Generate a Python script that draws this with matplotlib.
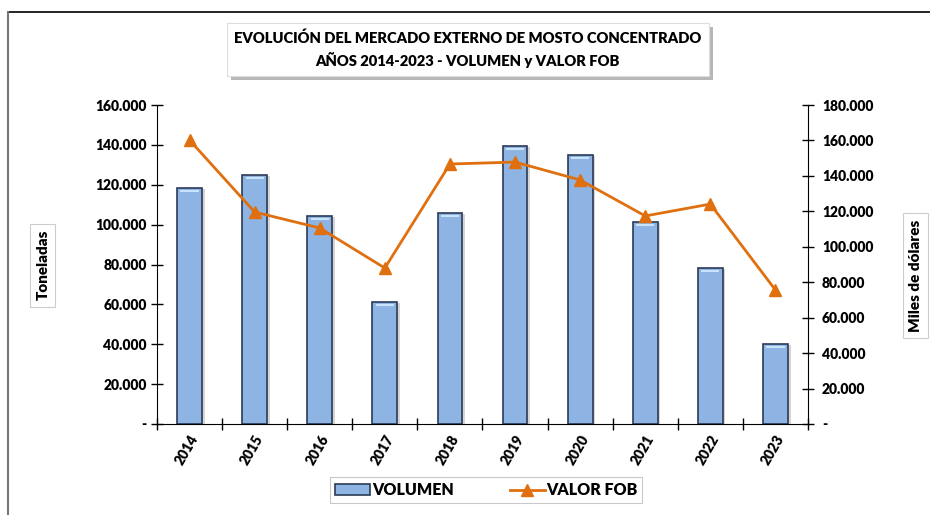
import numpy as np
import matplotlib.pyplot as plt
import matplotlib.patheffects as pe
from matplotlib.patches import Rectangle
from matplotlib.lines import Line2D
from matplotlib.ticker import FuncFormatter, MultipleLocator

years = ['2014', '2015', '2016', '2017', '2018', '2019', '2020', '2021', '2022', '2023']
volumen = [118500, 125000, 104300, 61200, 105800, 139400, 135000, 101300, 78200, 40100]
valor_fob = [160200, 119600, 110600, 88000, 146700, 147800, 137700, 117400, 124100, 75600]

plt.rcParams['font.family'] = ['Lato', 'DejaVu Sans']
plt.rcParams['font.weight'] = 'heavy'


def miles(v, pos):
    if v == 0:
        return '-'
    return '{:,.0f}'.format(v).replace(',', '.')


fig = plt.figure(figsize=(9.3, 5.15), dpi=100)
ax = fig.add_axes([0.1688, 0.1767, 0.70, 0.6194])
x = np.arange(len(years))

bars = ax.bar(x, volumen, width=0.38, color='#8DB4E2', edgecolor='#2B3A55', linewidth=1.2,
              zorder=2)
for b in bars:
    b.set_path_effects([pe.SimplePatchShadow(offset=(2, -1), shadow_rgbFace='#888888', alpha=0.35),
                        pe.Normal()])
    # light band near the top of each bar
    ax.add_patch(Rectangle((b.get_x() + 0.05, b.get_height() - 2200), b.get_width() - 0.1, 1200,
                           color='#C9E4FA', lw=0, zorder=3))

ax.set_xlim(-0.5, len(years) - 0.5)
ax.set_ylim(0, 160000)
ax.yaxis.set_major_locator(MultipleLocator(20000))
ax.yaxis.set_major_formatter(FuncFormatter(miles))
ax.set_xticks(x)
ax.set_xticklabels(years, rotation=60, ha='right', rotation_mode='anchor', fontsize=10)
ax.set_xticks(np.arange(-0.5, len(years)), minor=True)
ax.tick_params(axis='x', which='major', length=0, pad=6)
ax.tick_params(axis='x', which='minor', length=8, direction='inout', width=1)
ax.tick_params(axis='y', direction='inout', length=8, labelsize=10, width=1)
ax.spines['top'].set_visible(False)
ax.spines['right'].set_visible(False)

ax2 = ax.twinx()
ax2.plot(x, valor_fob, color='#E0700F', lw=2, marker='^', markersize=8, zorder=4)
ax2.set_ylim(0, 180000)
ax2.yaxis.set_major_locator(MultipleLocator(20000))
ax2.yaxis.set_major_formatter(FuncFormatter(miles))
ax2.tick_params(axis='y', direction='inout', length=8, labelsize=10, width=1, pad=6)
ax2.spines['top'].set_visible(False)
ax2.spines['left'].set_visible(False)
ax2.spines['bottom'].set_visible(False)

# titles
box = dict(boxstyle='square,pad=0.4', fc='white', ec='#cccccc', lw=0.8)
t = fig.text(0.503, 0.904, 'EVOLUCIÓN DEL MERCADO EXTERNO DE MOSTO CONCENTRADO\nAÑOS 2014-2023 - VOLUMEN y VALOR FOB',
             ha='center', va='center', fontsize=10.6, fontweight='heavy', linespacing=1.5,
             bbox=dict(boxstyle='square,pad=0.5', fc='white', ec='#dddddd', lw=0.8))
t.get_bbox_patch().set_path_effects([pe.SimplePatchShadow(offset=(3, -3), alpha=0.4), pe.Normal()])

fig.text(0.046, 0.485, 'Toneladas', rotation=90, ha='center', va='center', fontsize=11,
         fontweight='heavy', bbox=box)
fig.text(0.984, 0.465, 'Miles de dólares', rotation=90, ha='center', va='center', fontsize=11,
         fontweight='heavy', bbox=box)

# legend
handles = [Rectangle((0, 0), 1, 1, fc='#8DB4E2', ec='#2B3A55', lw=1.2),
           Line2D([], [], color='#E0700F', lw=2, marker='^', markersize=8)]
leg = fig.legend(handles, ['VOLUMEN', 'VALOR FOB'], loc='center', bbox_to_anchor=(0.523, 0.048),
                 ncol=2, frameon=True, fancybox=False, edgecolor='#bbbbbb',
                 prop={'size': 11.5, 'weight': 'heavy'},
                 handlelength=2.2, handletextpad=0.1, columnspacing=3.5, borderpad=0.3)
leg.get_frame().set_linewidth(0.8)

# outer frame of the chart area
fig.add_artist(Line2D([0.009, 1.0], [0.977, 0.977], color='black', lw=1.2))
fig.add_artist(Line2D([0.009, 0.009], [0.0, 0.977], color='#777777', lw=1.5))

fig.savefig('out.png', dpi=100)
